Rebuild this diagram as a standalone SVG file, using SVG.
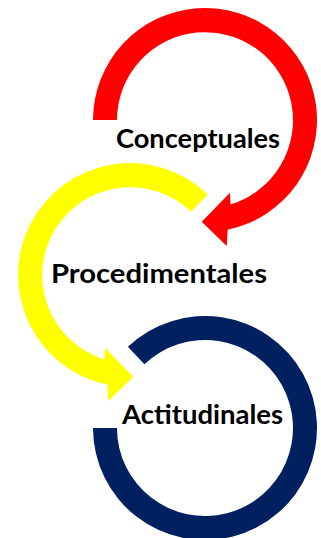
<svg xmlns="http://www.w3.org/2000/svg" width="321" height="538" viewBox="0 0 321 538">
  <style>
    .lbl { font-family: Lato, "Open Sans", "Liberation Sans", sans-serif; font-weight: bold; font-size: 26px; fill: #000000; }
  </style>
  <rect x="0" y="0" width="321" height="538" fill="#ffffff"/>
  <g id="connectors"></g>
  <g id="conceptuales">
    <path fill="#FF0000" d="M 93 120 A 112 112 0 1 1 227.7 229.7 L 226.7 246 L 201.7 221.7 L 230 192.7 L 230.5 204.4 A 88 88 0 1 0 117 120 Z"/>
  </g>
  <g id="procedimentales">
    <path fill="#FFFF00" d="M 207.8 194.4 A 112 112 0 1 0 107.3 384.7 L 108.3 401 L 133.3 376.7 L 105 347.7 L 104.5 359.4 A 88 88 0 1 1 191.1 211.7 Z"/>
  </g>
  <g id="actitudinales">
    <path fill="#002060" d="M 127.9 346.8 A 112 112 0 1 1 93 428 L 117 428 A 88 88 0 1 0 144.4 364.2 Z"/>
  </g>
  <g id="labels">
    <text class="lbl" x="116" y="148" textLength="164" lengthAdjust="spacingAndGlyphs">Conceptuales</text>
    <text class="lbl" x="51" y="283" textLength="216" lengthAdjust="spacingAndGlyphs">Procedimentales</text>
    <text class="lbl" x="122" y="424" textLength="161" lengthAdjust="spacingAndGlyphs">Actitudinales</text>
  </g>
</svg>
